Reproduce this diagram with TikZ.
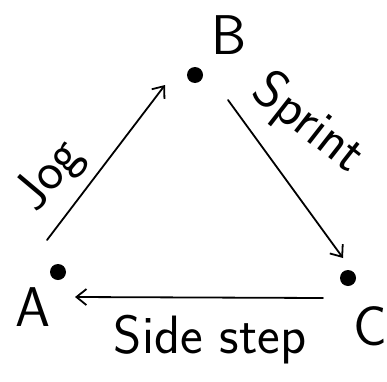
\documentclass[tikz,border=0pt]{standalone}
\usepackage{fontspec}
\usetikzlibrary{arrows.meta}
\begin{document}
\begin{tikzpicture}[x=1pt, y=1pt, line width=1.8pt, line join=round, line cap=round, >={Straight Barb[length=10pt,width=16pt]},
	dot/.style={circle, fill, inner sep=0pt, minimum size=16pt},
	vlbl/.style={inner sep=0pt, font=\sffamily\fontsize{56}{60}\selectfont},
	elbl/.style={inner sep=0pt, font=\sffamily\fontsize{54}{58}\selectfont}]
	\useasboundingbox (0,0) rectangle (387,381);
	% vertices
	\node[dot] (A) at (58,109) {};
	\node[dot] (B) at (195,306) {};
	\node[dot] (C) at (348,103) {};
	\node[vlbl] (Alb) at (33,74) {A};
	\node[vlbl] (Blb) at (229,346) {B};
	\node[vlbl] (Clb) at (370,55) {C};
	% arrow ends
	\coordinate (jog0) at ([shift={(-11,32)}]A);
	\coordinate (jog1) at ([shift={(-30,-10)}]B);
	\coordinate (spr0) at ([shift={(33,-25)}]B);
	\coordinate (spr1) at ([shift={(-5,20)}]C);
	\coordinate (sid0) at ([shift={(-25,-20)}]C);
	\coordinate (sid1) at ([shift={(17,-25)}]A);
	\draw[->] (jog0) -- (jog1);
	\draw[->] (spr0) -- (spr1);
	\draw[->] (sid0) -- (sid1);
	% moves
	\node[elbl, rotate=50] (jog) at (50,205) {Jog};
	\node[elbl, rotate=-38] (spr) at (308,257) {Sprint};
	\node[elbl] (sid) at (210,41) {Side step};
\end{tikzpicture}
\end{document}
